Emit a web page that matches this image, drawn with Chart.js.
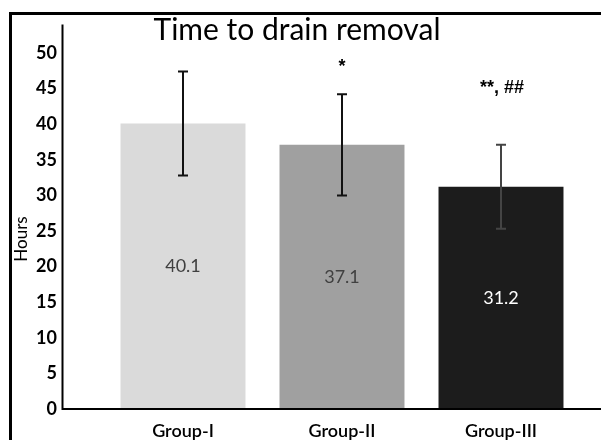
<!DOCTYPE html>
<html>
<head>
<meta charset="utf-8">
<script src="https://cdn.jsdelivr.net/npm/chart.js@4/dist/chart.umd.min.js"></script>
<style>
  html, body { margin: 0; padding: 0; background: #fff; }
  #wrap { width: 601px; height: 440px; position: relative; }
</style>
</head>
<body>
<div id="wrap"><canvas id="chart"></canvas></div>
<script>
// data
const groups = ['Group-I', 'Group-II', 'Group-III'];
const meanHours = [40.1, 37.1, 31.2];
const sdHours = [7.3, 7.1, 5.9];
const marks = ['', '*', '**, ##'];
const barColors = ['#dadada', '#a0a0a0', '#1c1c1c'];

const FONT = 'Lato, "Open Sans", sans-serif';

// frame, axis lines, error bars, labels
const decorations = {
  id: 'decorations',
  afterDatasetsDraw(chart) {
    const ctx = chart.ctx;
    const x = chart.scales.x, y = chart.scales.y;
    const y0 = y.getPixelForValue(0);
    ctx.save();

    // outer frame (top + left)
    ctx.fillStyle = '#000';
    ctx.fillRect(9, 12, 592, 3);
    ctx.fillRect(9, 12, 3, 428);

    // axis lines
    ctx.strokeStyle = '#000';
    ctx.lineWidth = 2;
    ctx.beginPath();
    ctx.moveTo(62.5, y.top);
    ctx.lineTo(62.5, y0);
    ctx.lineTo(601, y0);
    ctx.stroke();

    meanHours.forEach((m, i) => {
      const cx = x.getPixelForValue(i);
      const hi = y.getPixelForValue(m + sdHours[i]);
      const lo = y.getPixelForValue(m - sdHours[i]);

      // error bar
      ctx.strokeStyle = i === 2 ? '#444' : '#111';
      ctx.lineWidth = 2;
      ctx.beginPath();
      ctx.moveTo(cx, hi); ctx.lineTo(cx, lo);
      ctx.moveTo(cx - 5, hi); ctx.lineTo(cx + 5, hi);
      ctx.moveTo(cx - 5, lo); ctx.lineTo(cx + 5, lo);
      ctx.stroke();

      // value label in the middle of the bar
      ctx.font = '18px ' + FONT;
      ctx.fillStyle = i === 2 ? '#fff' : '#404040';
      ctx.textAlign = 'center';
      ctx.textBaseline = 'middle';
      ctx.fillText(m.toFixed(1), cx, y.getPixelForValue(m / 2));

      // significance marks
      if (marks[i]) {
        ctx.font = 'bold 18px "Liberation Sans", Arial, sans-serif';
        ctx.fillStyle = '#000';
        ctx.textBaseline = 'alphabetic';
        const ty = i === 1 ? hi - 22 : hi - 52;
        ctx.fillText(marks[i], cx + (i === 2 ? 1 : 0), ty);
      }
    });

    // title
    ctx.font = '30px ' + FONT;
    ctx.fillStyle = '#000';
    ctx.textAlign = 'center';
    ctx.textBaseline = 'alphabetic';
    ctx.fillText('Time to drain removal', 297, 40);

    // y axis title
    ctx.translate(22, 239);
    ctx.rotate(-Math.PI / 2);
    ctx.font = '17px ' + FONT;
    ctx.textBaseline = 'middle';
    ctx.fillText('Hours', 0, 0);

    ctx.restore();
  }
};

new Chart(document.getElementById('chart'), {
  type: 'bar',
  data: {
    labels: groups,
    datasets: [{
      data: meanHours,
      backgroundColor: barColors,
      borderWidth: 0,
      barPercentage: 1,
      categoryPercentage: 0.786
    }]
  },
  options: {
    responsive: true,
    maintainAspectRatio: false,
    animation: false,
    events: [],
    layout: { padding: { top: 24.5, right: 20.5, left: 0, bottom: 0 } },
    plugins: { legend: { display: false }, tooltip: { enabled: false } },
    scales: {
      x: {
        grid: { display: false, drawTicks: false },
        border: { display: false },
        ticks: { color: '#000', padding: 11, font: { family: FONT, size: 18, weight: '600' } },
        afterFit(s) { s.height = 31; }
      },
      y: {
        min: 0,
        max: 54,
        grid: { display: false, drawTicks: false },
        border: { display: false },
        afterBuildTicks(s) { s.ticks = s.ticks.filter(t => t.value % 5 === 0); },
        ticks: { stepSize: 5, color: '#000', padding: 46.5, font: { family: FONT, size: 18, weight: 'bold' } },
        // labels sit next to the hand-drawn axis at x=62; keep tick padding out of the layout
        afterFit(s) { s.width = 103.5; s.paddingTop = 0; s.paddingBottom = 0; }
      }
    }
  },
  plugins: [decorations]
});
</script>
</body>
</html>
